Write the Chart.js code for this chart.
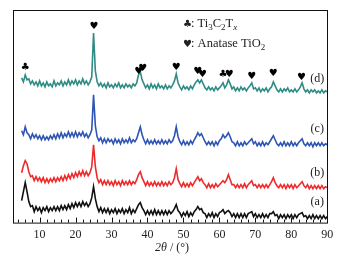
<!DOCTYPE html>
<html>
<head>
<meta charset="utf-8">
<script src="https://cdn.jsdelivr.net/npm/chart.js@4.4.1/dist/chart.umd.min.js"></script>
<style>
  html, body { margin: 0; padding: 0; background: #fff; }
  #wrap { width: 343px; height: 255px; position: relative; }
</style>
</head>
<body>
<div id="wrap"><canvas id="xrd"></canvas></div>
<script>
// 2theta sampling grid, 5..90 deg in 0.5 deg steps (171 points)
const twoTheta = Array.from({ length: 171 }, (_, i) => 5 + i * 0.5);

// stacked intensities (a.u.)
const seriesA = [22,31,40,31,21,16,17,11,16,12,15,10,15,12,16,11,15,12,16,12,16,12,17,13,17,13,18,14,19,15,20,16,20,16,21,17,20,16,19,25,
  36,24,16,11,15,10,14,10,14,9,13,10,14,9,13,10,14,9,13,10,15,9,13,10,14,18,20,15,12,8,12,8,12,8,13,8,12,8,12,8,
  12,8,12,9,11,14,18,12,10,6,10,7,11,6,10,7,11,13,16,13,14,10,9,5,9,6,10,5,9,6,10,11,13,9,11,12,10,6,9,5,
  9,5,9,5,9,5,9,10,11,6,9,5,8,5,9,5,8,5,9,9,11,7,8,4,8,5,8,4,8,5,8,4,8,5,8,9,10,6,7,4,
  7,4,8,4,7,4,7,4,7,4,6];
const seriesB = [50,57,62,59,51,46,47,42,46,42,45,41,45,40,44,40,44,41,45,41,45,42,46,42,47,43,48,44,49,45,50,46,51,47,52,47,51,47,50,56,
  78,56,45,40,43,38,42,38,42,38,41,37,42,38,41,37,42,38,41,38,42,38,41,39,43,48,51,45,41,37,41,37,40,37,41,37,40,37,41,37,
  40,37,41,38,40,45,54,43,39,36,40,36,39,36,40,37,40,43,46,42,44,40,38,35,39,35,38,35,39,36,38,40,42,40,43,48,43,38,38,35,
  38,35,38,35,39,35,38,40,42,37,38,35,38,35,38,35,38,35,38,41,45,40,37,35,38,35,38,34,38,35,38,34,38,35,37,39,41,37,35,38,
  34,37,34,37,34,37,34,37,34,36,35];
const seriesC = [92,88,96,90,88,84,89,85,88,84,87,83,87,83,86,83,87,84,88,84,89,85,90,85,89,86,91,86,90,86,91,86,90,87,91,86,89,85,88,93,
  128,97,86,82,85,80,84,80,84,81,83,79,84,80,83,79,84,80,83,80,85,80,83,81,84,90,96,88,83,79,83,79,82,79,83,79,82,79,83,79,
  82,79,83,80,82,87,96,86,81,78,82,78,81,78,82,79,83,86,90,87,89,85,81,78,81,78,81,77,81,78,82,84,88,85,87,90,86,81,80,77,
  81,77,80,77,81,78,80,82,84,79,81,77,80,77,81,77,80,78,81,84,87,83,79,77,80,77,81,77,80,77,81,77,80,77,80,82,84,79,77,80,
  77,80,76,80,77,80,77,80,77,79,78];
const seriesD = [145,141,148,143,144,139,142,138,141,137,142,137,140,136,141,137,139,136,142,137,140,138,142,137,141,138,143,138,142,139,143,138,142,139,144,139,142,138,141,146,
  190,152,141,137,140,136,139,135,140,136,138,135,139,136,140,135,138,135,139,136,138,135,139,137,140,148,151,143,139,135,138,134,139,135,138,134,139,135,137,134,
  138,134,137,135,138,142,149,140,136,133,137,134,136,133,137,134,138,141,143,140,143,139,135,133,136,133,135,132,136,133,135,137,140,135,138,143,139,134,136,132,
  135,132,136,133,135,132,135,137,140,134,135,132,135,131,134,132,135,131,134,136,141,137,133,131,134,131,134,132,135,131,133,131,134,131,133,136,140,134,131,133,
  130,133,131,133,130,132,130,133,130,132,131];

const sampleLabels = ['(a)', '(b)', '(c)', '(d)'];
const sampleColors = ['#111111', '#ee2a2a', '#2e55b4', '#2f8c84'];
const labelLevels = [20.7, 49.7, 93.7, 143.7];

// peak markers: club = Ti3C2Tx, heart = anatase TiO2
const markerTheta = [6.0, 25.1, 37.6, 38.7, 48.0, 54.0, 55.3, 61.0, 62.7, 69.0, 75.0, 82.8];
const markerLevel = [155, 197, 151, 154, 155, 151, 148, 148, 148, 146, 149, 145];
const markerKind  = ['club','heart','heart','heart','heart','heart','heart','club','heart','heart','heart','heart'];

const xTicks = [10, 20, 30, 40, 50, 60, 70, 80, 90];

const toPoints = (vals) => vals.map((v, i) => ({ x: twoTheta[i], y: v }));

function drawRich(ctx, parts, x, y) {
  let cx = x;
  parts.forEach(([text, style]) => {
    const sub = style.includes('sub');
    const it = style.includes('italic') ? 'italic ' : '';
    ctx.font = it + (sub ? '9px' : '12.5px') + ' "Liberation Serif"';
    ctx.fillText(text, cx, sub ? y + 3 : y);
    cx += ctx.measureText(text).width;
  });
  return cx;
}

const xrdDecor = {
  id: 'xrdDecor',
  afterDraw(chart) {
    const { ctx, chartArea: a, scales: { x, y } } = chart;
    ctx.save();

    // frame
    ctx.strokeStyle = '#111';
    ctx.lineWidth = 1;
    ctx.strokeRect(a.left + 0.5, a.top + 0.5, a.right - a.left - 1, a.bottom - a.top);

    // inward ticks on the bottom axis
    ctx.beginPath();
    for (let v = 4; v <= 90; v += 2) {
      const px = Math.round(x.getPixelForValue(v)) + 0.5;
      const len = v % 10 === 0 ? 5 : 3;
      ctx.moveTo(px, a.bottom);
      ctx.lineTo(px, a.bottom - len);
    }
    ctx.stroke();

    // peak markers
    ctx.fillStyle = '#000';
    ctx.textAlign = 'center';
    ctx.textBaseline = 'middle';
    ctx.font = 'bold 10px "DejaVu Sans"';
    markerTheta.forEach((t, i) => {
      const g = markerKind[i] === 'club' ? '\u2663' : '\u2665';
      ctx.fillText(g, x.getPixelForValue(t), y.getPixelForValue(markerLevel[i]));
    });

    // sample labels
    ctx.font = '12px "Liberation Serif"';
    ctx.fillStyle = '#222';
    sampleLabels.forEach((lab, i) => {
      ctx.fillText(lab, x.getPixelForValue(87.2), y.getPixelForValue(labelLevels[i]));
    });

    // legend
    ctx.textAlign = 'left';
    ctx.textBaseline = 'alphabetic';
    ctx.font = 'bold 10px "DejaVu Sans"';
    ctx.fillText('\u2663', a.left + 170, a.top + 17);
    ctx.fillText('\u2665', a.left + 170, a.top + 37);
    drawRich(ctx, [[': Ti', 'n'], ['3', 'sub'], ['C', 'n'], ['2', 'sub'], ['T', 'n'], ['x', 'italic sub']], a.left + 178, a.top + 17);
    drawRich(ctx, [[': Anatase TiO', 'n'], ['2', 'sub']], a.left + 178, a.top + 37);

    // axis title
    const rest = ' / (\u00b0)';
    ctx.font = 'italic 12px "Liberation Serif"';
    const w1 = ctx.measureText('2\u03b8').width;
    ctx.font = '12px "Liberation Serif"';
    const w2 = ctx.measureText(rest).width;
    const cx = 172 - (w1 + w2) / 2;
    ctx.textBaseline = 'middle';
    ctx.fillStyle = '#222';
    ctx.font = 'italic 12px "Liberation Serif"';
    ctx.fillText('2\u03b8', cx, 248);
    ctx.font = '12px "Liberation Serif"';
    ctx.fillText(rest, cx + w1, 248);

    ctx.restore();
  }
};

const datasets = [seriesA, seriesB, seriesC, seriesD].map((vals, i) => ({
  label: sampleLabels[i],
  data: toPoints(vals),
  borderColor: sampleColors[i],
  borderWidth: 1.6,
  pointRadius: 0,
  tension: 0,
  fill: false
}));

new Chart(document.getElementById('xrd').getContext('2d'), {
  type: 'line',
  data: { datasets },
  plugins: [xrdDecor],
  options: {
    responsive: true,
    maintainAspectRatio: false,
    animation: false,
    events: [],
    layout: { padding: { left: 13, right: 15, top: 10, bottom: 8 } },
    plugins: { legend: { display: false }, tooltip: { enabled: false } },
    scales: {
      x: {
        type: 'linear',
        min: 2.6,
        max: 90.2,
        afterBuildTicks: (s) => { s.ticks = xTicks.map(v => ({ value: v })); },
        grid: { display: false, drawTicks: false },
        border: { display: false },
        ticks: {
          color: '#222',
          padding: 5,
          maxRotation: 0,
          font: { family: 'Liberation Serif', size: 12 }
        }
      },
      y: {
        display: false,
        min: 0,
        max: 213
      }
    }
  }
});
</script>
</body>
</html>
